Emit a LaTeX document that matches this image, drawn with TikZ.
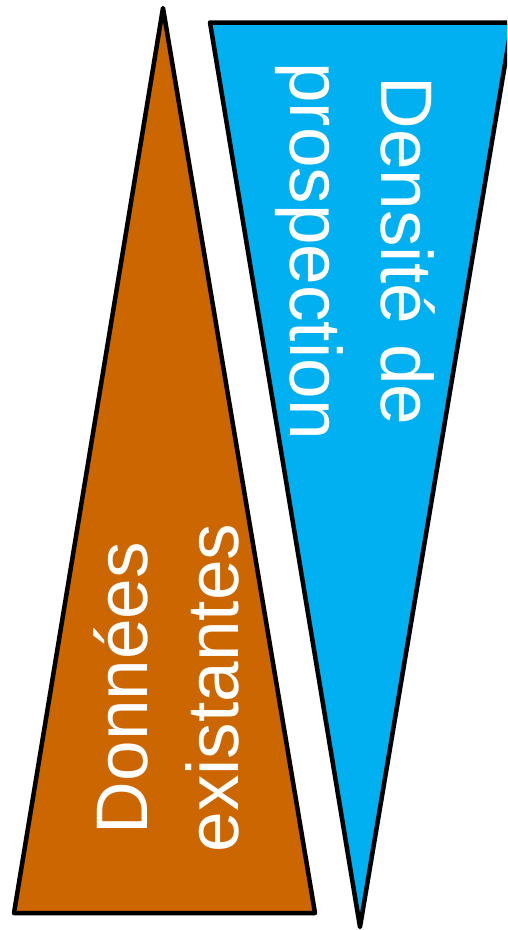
\documentclass[tikz,border=0pt]{standalone}
\usepackage{fontspec}
\setmainfont{Liberation Sans}
\definecolor{donnees}{RGB}{204,102,0}
\definecolor{densite}{RGB}{0,176,240}
\tikzset{
  wedge/.style={draw=black, line width=4.5pt, line join=round},
  wedgetext/.style={text=white, align=center, font=\fontsize{73}{91}\selectfont, inner sep=0pt}
}
\begin{document}
\begin{tikzpicture}[x=1pt,y=-1pt]
\useasboundingbox (0,0) rectangle (507,930);
\clip (0,0) rectangle (507,930);
%%% existing data, pointing up
\draw[wedge, fill=donnees] (163,8) -- (315,913) -- (14,913) -- cycle;
%%% prospection density, pointing down
\draw[wedge, fill=densite] (210,22.5) -- (512,22.5) -- (360,927) -- cycle;
% labels
\node[wedgetext, rotate=90] (donneesLbl) at (166,688) {Données\\existantes};
\node[wedgetext, rotate=-90] (densiteLbl) at (355,251) {Densité de\\prospection};
\end{tikzpicture}
\end{document}
